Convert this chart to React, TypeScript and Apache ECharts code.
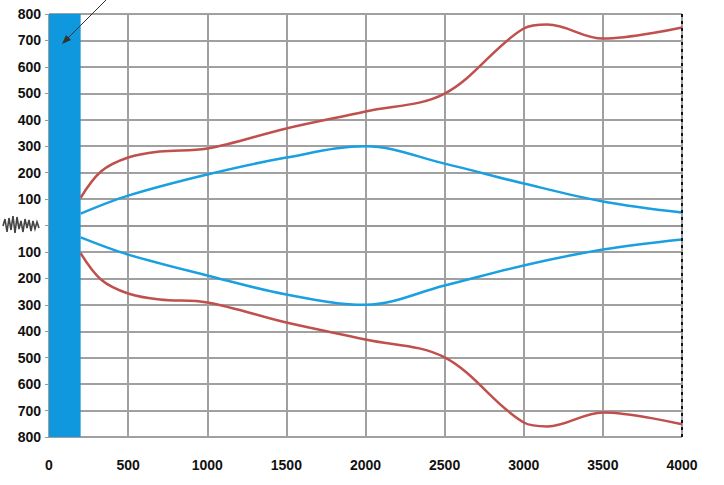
import React, { useEffect, useRef } from "react";
import * as echarts from "echarts";

const xTicks = [0, 500, 1000, 1500, 2000, 2500, 3000, 3500, 4000];
const redUpperX = [200, 330, 500, 700, 1000, 1500, 2000, 2500, 3000, 3150, 3500, 4000];
const redUpperY = [105, 205, 257, 280, 291, 367, 431, 499, 745, 760, 707, 749];
const redLowerX = [200, 330, 500, 700, 1000, 1500, 2000, 2500, 3000, 3150, 3500, 4000];
const redLowerY = [-105, -205, -257, -280, -291, -367, -431, -499, -745, -760, -707, -752];
const blueUpperX = [200, 500, 1000, 1500, 2000, 2500, 3000, 3500, 4000];
const blueUpperY = [45, 113, 193, 257, 300, 234, 159, 91, 49];
const blueLowerX = [200, 500, 1000, 1500, 2000, 2500, 3000, 3500, 4000];
const blueLowerY = [-45, -110, -189, -261, -300, -227, -151, -91, -53];
const bandRange = [0, 200];

const RED = "#c0504d";
const BLUE = "#1aa0e0";

function zip(xs: number[], ys: number[]) {
  return xs.map((x, i) => [x, ys[i]]);
}

export default function App() {
  const ref = useRef<HTMLDivElement>(null);
  useEffect(() => {
    const chart = echarts.init(ref.current!, null, { renderer: "svg" });
    const lineBase = { type: "line", smooth: 0.35, showSymbol: false, symbol: "none" };
    chart.setOption({
      animation: false,
      backgroundColor: "#ffffff",
      grid: { left: 49, right: 42, top: 14, bottom: 48 },
      xAxis: {
        type: "value",
        min: xTicks[0],
        max: xTicks[xTicks.length - 1],
        interval: 500,
        axisLine: { show: true, lineStyle: { color: "#999", width: 2 } },
        axisTick: { show: true, length: 5, lineStyle: { color: "#999", width: 2 } },
        axisLabel: {
          margin: 21,
          color: "#111",
          fontFamily: "Liberation Sans",
          fontWeight: "bold",
          fontSize: 14,
          formatter: (v: number) => String(v),
        },
        splitLine: { show: true, lineStyle: { color: "#a0a0a0", width: 2 } },
      },
      yAxis: {
        type: "value",
        min: -800,
        max: 800,
        interval: 100,
        axisLine: { show: false },
        axisTick: { show: true, length: 4, lineStyle: { color: "#999", width: 1 } },
        axisLabel: {
          margin: 8,
          color: "#111",
          fontFamily: "Liberation Sans",
          fontWeight: "bold",
          fontSize: 14,
          formatter: (v: number) => (v === 0 ? "" : String(Math.abs(v))),
        },
        splitLine: { show: true, lineStyle: { color: "#a0a0a0", width: 2 } },
      },
      series: [
        {
          type: "line",
          data: [],
          markArea: {
            silent: true,
            itemStyle: { color: "#0f98de", opacity: 1 },
            data: [[{ xAxis: bandRange[0], yAxis: -800 }, { xAxis: bandRange[1], yAxis: 800 }]],
          },
          markLine: {
            silent: true,
            symbol: "none",
            label: { show: false },
            lineStyle: { color: "#111", type: [3, 4], width: 2 },
            data: [{ xAxis: 4000 }],
          },
        },
        { ...lineBase, data: zip(redUpperX, redUpperY), lineStyle: { color: RED, width: 2.5 } },
        { ...lineBase, data: zip(redLowerX, redLowerY), lineStyle: { color: RED, width: 2.5 } },
        { ...lineBase, data: zip(blueUpperX, blueUpperY), lineStyle: { color: BLUE, width: 2.5 } },
        { ...lineBase, data: zip(blueLowerX, blueLowerY), lineStyle: { color: BLUE, width: 2.5 } },
      ],
      graphic: [
        {
          type: "line",
          shape: { x1: 106, y1: 0, x2: 66, y2: 40 },
          style: { stroke: "#333", lineWidth: 1 },
          z: 100,
        },
        {
          type: "polygon",
          shape: { points: [[62, 44], [66, 35], [71, 40]] },
          style: { fill: "#333" },
          z: 100,
        },
        {
          type: "polyline",
          shape: {
            points: [
              [3, 226], [5, 219], [7, 232], [9, 218], [11, 230], [13, 216], [15, 233],
              [17, 217], [19, 229], [21, 221], [23, 232], [25, 219], [27, 228], [29, 220],
              [31, 231], [33, 221], [35, 229], [37, 222], [39, 228],
            ],
          },
          style: { stroke: "#444", lineWidth: 1.6 },
          z: 100,
        },
      ],
    });
    return () => chart.dispose();
  }, []);
  return <div ref={ref} style={{ width: 724, height: 485, position: "absolute", left: 0, top: 0 }} />;
}
